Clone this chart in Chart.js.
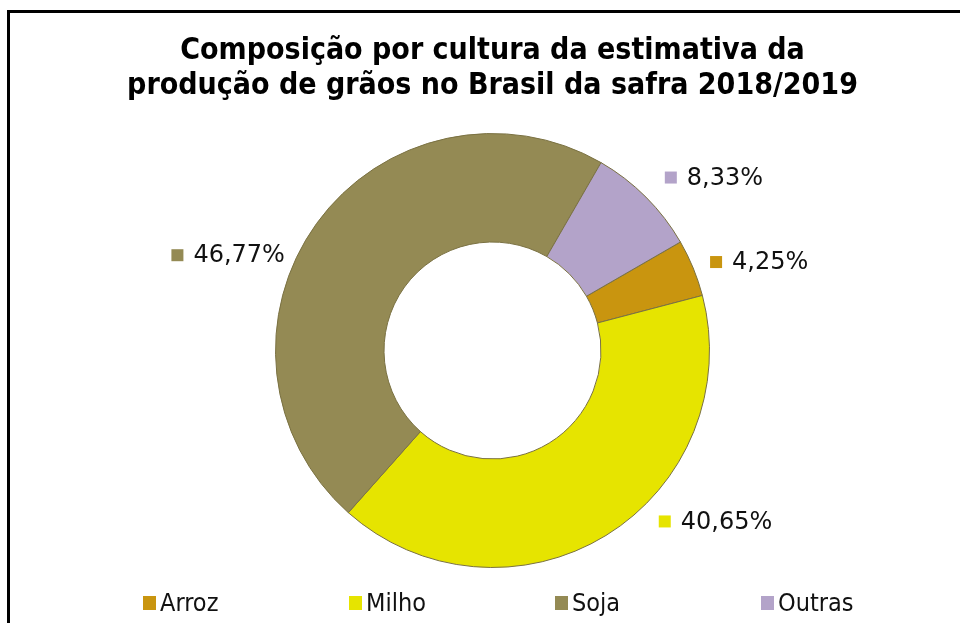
<!DOCTYPE html>
<html lang="pt-BR">
<head>
  <meta charset="UTF-8">
  <title>Composição por cultura da estimativa da produção de grãos no Brasil da safra 2018/2019</title>
  <script src="https://cdn.jsdelivr.net/npm/chart.js"></script>
  <style>
    html, body { margin: 0; padding: 0; background: #fff; }
    canvas { display: block; }
  </style>
</head>
<body>
  <canvas id="graosChart" width="960" height="623"></canvas>

  <script>
    // Dados da safra 2018/2019 (%)
    const culturas = ['Arroz', 'Milho', 'Soja', 'Outras'];
    const participacao = [4.25, 40.65, 46.77, 8.33];
    const rotulos = ['4,25%', '40,65%', '46,77%', '8,33%'];
    const cores = ['#C9950F', '#E6E400', '#948A54', '#B3A3C9'];

    const tituloLinhas = [
      'Composição por cultura da estimativa da',
      'produção de grãos no Brasil da safra 2018/2019'
    ];

    // ajuste do ângulo (graus) de cada rótulo, como no "melhor ajuste" do Excel
    const ajusteAngulo = [4, -21, -16, 7];
    const distRotulo = 64;

    // moldura preta (só topo e esquerda aparecem no recorte)
    const moldura = {
      id: 'moldura',
      afterDraw(chart) {
        const ctx = chart.ctx;
        ctx.save();
        ctx.fillStyle = '#000';
        ctx.fillRect(7, 10, chart.width - 7, 3);
        ctx.fillRect(7, 10, 3, chart.height - 10);
        ctx.restore();
      }
    };

    // rótulos de dados fora da rosca
    const rotulosFora = {
      id: 'rotulosFora',
      afterDatasetsDraw(chart) {
        const ctx = chart.ctx;
        const arcs = chart.getDatasetMeta(0).data;
        ctx.save();
        ctx.font = '24px "DejaVu Sans"';
        ctx.textBaseline = 'middle';
        ctx.textAlign = 'left';
        arcs.forEach((arc, i) => {
          const p = arc.getProps(['x', 'y', 'startAngle', 'endAngle', 'outerRadius'], true);
          const ang = (p.startAngle + p.endAngle) / 2 + ajusteAngulo[i] * Math.PI / 180;
          const r = p.outerRadius + distRotulo;
          const cx = p.x + Math.cos(ang) * r;
          const cy = p.y + Math.sin(ang) * r;
          const tw = ctx.measureText(rotulos[i]).width;
          const total = 12 + 10 + tw;
          const x0 = cx - total / 2;
          ctx.fillStyle = cores[i];
          ctx.fillRect(x0, cy - 6, 12, 12);
          ctx.fillStyle = '#111';
          ctx.fillText(rotulos[i], x0 + 22, cy + 1);
        });
        ctx.restore();
      }
    };

    // legenda horizontal com espaçamento igual
    const legendaBaixo = {
      id: 'legendaBaixo',
      afterDraw(chart) {
        const ctx = chart.ctx;
        ctx.save();
        ctx.font = '25px "DejaVu Sans Condensed", "DejaVu Sans"';
        ctx.textBaseline = 'middle';
        ctx.textAlign = 'left';
        const y = 603;
        culturas.forEach((nome, i) => {
          const x = 143 + i * 206;
          ctx.fillStyle = cores[i];
          ctx.fillRect(x, y - 7, 13, 14);
          ctx.fillStyle = '#111';
          ctx.fillText(nome, x + 17, y + 1);
        });
        ctx.restore();
      }
    };

    const ctx = document.getElementById('graosChart').getContext('2d');
    new Chart(ctx, {
      type: 'doughnut',
      data: {
        labels: culturas,
        datasets: [{
          data: participacao,
          backgroundColor: cores,
          borderColor: '#7a7142',
          borderWidth: 1
        }]
      },
      options: {
        responsive: false,
        animation: false,
        rotation: 60,
        cutout: '50%',
        layout: {
          padding: { top: 0, bottom: 55, left: 25, right: 0 }
        },
        plugins: {
          legend: { display: false },
          tooltip: { enabled: false },
          title: {
            display: true,
            text: tituloLinhas,
            color: '#000',
            font: { family: '"DejaVu Sans Condensed", "DejaVu Sans"', size: 30, weight: 'bold', lineHeight: 1.167 },
            padding: { top: 34, bottom: 29 }
          }
        }
      },
      plugins: [moldura, rotulosFora, legendaBaixo]
    });
  </script>
</body>
</html>
